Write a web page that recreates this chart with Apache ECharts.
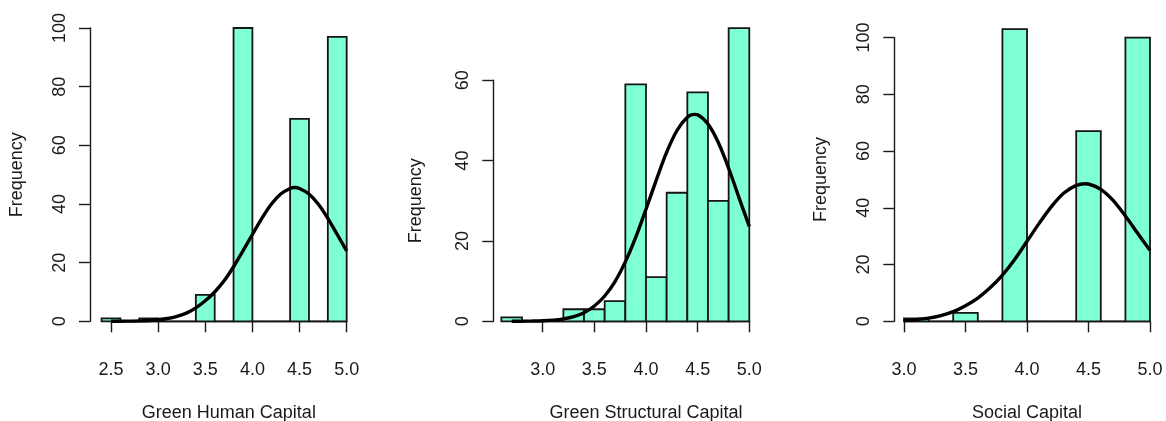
<!DOCTYPE html>
<html>
<head>
<meta charset="utf-8">
<script src="https://cdn.jsdelivr.net/npm/echarts@6/dist/echarts.min.js"></script>
<style>
html,body{margin:0;padding:0;background:#fff;}
#c{width:1166px;height:421px;}
</style>
</head>
<body>
<div id="c"></div>
<script>
// ---------------- DATA ----------------
const titles = ['Green Human Capital', 'Green Structural Capital', 'Social Capital'];
const yName = 'Frequency';

// histogram bins: [start, end] with width 0.2
const binStarts1 = [2.4, 2.6, 2.8, 3.0, 3.2, 3.4, 3.6, 3.8, 4.0, 4.2, 4.4, 4.6, 4.8];
const counts1    = [1,   0,   1,   0,   0,   9,   0,   100, 0,   0,   69,  0,   97];

const binStarts2 = [2.6, 2.8, 3.0, 3.2, 3.4, 3.6, 3.8, 4.0, 4.2, 4.4, 4.6, 4.8];
const counts2    = [1,   0,   0,   3,   3,   5,   59,  11,  32,  57,  30,  73];

const binStarts3 = [3.0, 3.2, 3.4, 3.6, 3.8, 4.0, 4.2, 4.4, 4.6, 4.8];
const counts3    = [1,   0,   3,   0,   103, 0,   0,   67,  0,   100];

const binWidth = 0.2;

// fitted normal curves
const curveX1 = [2.5,2.6,2.7,2.8,2.9,3.0,3.1,3.2,3.3,3.4,3.5,3.6,3.7,3.8,3.9,4.0,4.1,4.2,4.3,4.4,4.45,4.5,4.6,4.7,4.8,4.9,5.0];
const curveY1 = [0.0,0.03,0.07,0.14,0.28,0.53,0.96,1.7,2.8,4.6,7.0,10.0,13.8,18.6,24.0,29.6,35.1,39.9,43.4,45.3,45.6,45.3,43.4,39.9,35.1,29.6,24.0];

const curveX2 = [2.7,2.8,2.9,3.0,3.1,3.2,3.3,3.4,3.5,3.6,3.7,3.8,3.9,4.0,4.1,4.2,4.3,4.4,4.47,4.5,4.6,4.7,4.8,4.9,5.0];
const curveY2 = [0.01,0.02,0.06,0.13,0.28,0.59,1.15,2.15,3.8,6.3,9.9,14.8,20.9,27.9,35.2,42.1,47.5,50.8,51.5,51.4,49.1,44.5,38.1,30.8,23.6];

const curveX3 = [3.0,3.1,3.2,3.3,3.4,3.5,3.6,3.7,3.8,3.9,4.0,4.1,4.2,4.3,4.4,4.47,4.5,4.6,4.7,4.8,4.9,5.0];
const curveY3 = [0.3,0.6,1.1,2.0,3.4,5.5,8.2,11.8,16.3,21.8,28.2,34.6,40.5,45.2,47.9,48.5,48.4,46.5,42.6,37.1,31.0,25.0];

// tick labels
const xTicks1 = ['2.5','3.0','3.5','4.0','4.5','5.0'];
const xTicks2 = ['3.0','3.5','4.0','4.5','5.0'];
const xTicks3 = ['3.0','3.5','4.0','4.5','5.0'];
const yTicks1 = ['0','20','40','60','80','100'];
const yTicks2 = ['0','20','40','60'];
const yTicks3 = ['0','20','40','60','80','100'];

// ---------------- LAYOUT ----------------
const FONT = "'Liberation Sans', Arial, sans-serif";
const FS = 18;
const INK = '#1a1a1a';
const BASE_Y = 321.3;      // pixel row of value 0
const XAXIS_Y = 332.7;     // pixel row of drawn x axis line
const panels = [
  {xRef: 2.5, xRefPix: 111,   xScale: 94.27, yScale: 2.933, yAxisX: 90,    yNameGap: 64, bins: binStarts1, counts: counts1, cx: curveX1, cy: curveY1, xt: xTicks1, yt: yTicks1},
  {xRef: 3.0, xRefPix: 542.7, xScale: 103.3, yScale: 4.017, yAxisX: 493.3, yNameGap: 68, bins: binStarts2, counts: counts2, cx: curveX2, cy: curveY2, xt: xTicks2, yt: yTicks2},
  {xRef: 3.0, xRefPix: 904,   xScale: 123,   yScale: 2.837, yAxisX: 894.3, yNameGap: 64, bins: binStarts3, counts: counts3, cx: curveX3, cy: curveY3, xt: xTicks3, yt: yTicks3}
];

const grid = [], xAxis = [], yAxis = [], series = [];
panels.forEach((p, i) => {
  const xPix = v => p.xRefPix + (v - p.xRef) * p.xScale;
  const yPix = v => BASE_Y - v * p.yScale;
  const xmin = p.bins[0];
  const xmax = p.bins[p.bins.length - 1] + binWidth;
  const ymax = Math.max(...p.counts);

  // main plotting grid (hidden axes)
  const gi = grid.length;
  grid.push({left: xPix(xmin), top: yPix(ymax), width: xPix(xmax) - xPix(xmin), height: yPix(0) - yPix(ymax),
             containLabel: false, outerBoundsMode: 'none'});
  xAxis.push({gridIndex: gi, type: 'value', min: xmin, max: xmax, show: false});
  yAxis.push({gridIndex: gi, type: 'value', min: 0, max: ymax, show: false});

  // axis grid (visible axes spanning tick range only)
  const xt0 = parseFloat(p.xt[0]), xt1 = parseFloat(p.xt[p.xt.length - 1]);
  const yt1 = parseFloat(p.yt[p.yt.length - 1]);
  const ai = grid.length;
  grid.push({left: xPix(xt0), top: yPix(yt1), width: xPix(xt1) - xPix(xt0), height: yPix(0) - yPix(yt1),
             containLabel: false, outerBoundsMode: 'none'});
  const axisLine = {show: true, lineStyle: {color: INK, width: 1.4}};
  const axisTick = {show: true, length: 11, lineStyle: {color: INK, width: 1.4}};
  xAxis.push({
    gridIndex: ai, type: 'value', min: xt0, max: xt1,
    interval: parseFloat(p.xt[1]) - xt0,
    position: 'bottom', offset: XAXIS_Y - BASE_Y,
    axisLine, axisTick, splitLine: {show: false},
    axisLabel: {margin: 28, fontFamily: FONT, fontSize: FS, color: INK, formatter: v => v.toFixed(1)},
    name: titles[i], nameLocation: 'middle', nameGap: 71,
    nameTextStyle: {fontFamily: FONT, fontSize: FS, color: INK}
  });
  yAxis.push({
    gridIndex: ai, type: 'value', min: 0, max: yt1,
    interval: parseFloat(p.yt[1]),
    position: 'left', offset: xPix(xt0) - p.yAxisX,
    axisLine, axisTick, splitLine: {show: false},
    axisLabel: {margin: 21, rotate: 90, fontFamily: FONT, fontSize: FS, color: INK},
    name: yName, nameLocation: 'middle', nameGap: p.yNameGap, nameRotate: 90,
    nameTextStyle: {fontFamily: FONT, fontSize: FS, color: INK}
  });

  // histogram bars (zero-count bins give a flat outline, like R)
  series.push({
    type: 'custom', xAxisIndex: gi, yAxisIndex: gi,
    data: p.bins.map((b, k) => [b, b + binWidth, p.counts[k]]),
    renderItem: (params, api) => {
      const a = api.coord([api.value(0), api.value(2)]);
      const b = api.coord([api.value(1), 0]);
      return {
        type: 'rect',
        shape: {x: a[0], y: a[1], width: b[0] - a[0], height: b[1] - a[1]},
        style: {fill: '#7FFFD4', stroke: '#151515', lineWidth: 1.8}
      };
    },
    clip: false, silent: true, z: 2
  });
  // normal curve
  series.push({
    type: 'line', xAxisIndex: gi, yAxisIndex: gi,
    data: p.cx.map((x, k) => [x, p.cy[k]]),
    smooth: 0.3, showSymbol: false, clip: false,
    lineStyle: {color: '#000', width: 3.4}, silent: true, z: 3
  });
});

const chart = echarts.init(document.getElementById('c'), null, {renderer: 'canvas'});
chart.setOption({
  backgroundColor: '#fff',
  animation: false,
  grid, xAxis, yAxis, series
});
</script>
</body>
</html>
